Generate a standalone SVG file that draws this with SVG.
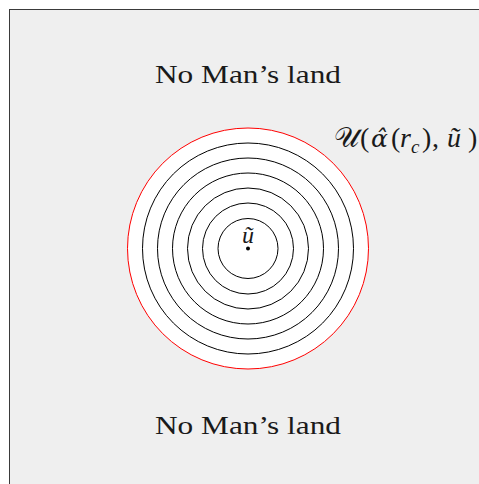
<svg xmlns="http://www.w3.org/2000/svg" width="479" height="484" viewBox="0 0 479 484">
<style>
.ring{fill:none;stroke:#000;stroke-width:1}
.lbl{font-family:"Liberation Serif","DejaVu Serif",serif;fill:#1a1a1a}
.it{font-style:italic}
.dv{font-family:"DejaVu Serif",serif}
</style>
<g id="background">
<rect x="9.5" y="9.5" width="520" height="520" fill="#efefef" stroke="#3a3a3a" stroke-width="1"/>
</g>
<g id="region">
<circle cx="248" cy="248.5" r="120.5" fill="#fff" stroke="#ff0000" stroke-width="1"/>
<circle class="ring" cx="248" cy="248.5" r="105.5"/>
<circle class="ring" cx="248" cy="248.5" r="90.5"/>
<circle class="ring" cx="248" cy="248.5" r="75.5"/>
<circle class="ring" cx="248" cy="248.5" r="60.5"/>
<circle class="ring" cx="248" cy="248.5" r="45.5"/>
<circle class="ring" cx="248" cy="248.5" r="30"/>
</g>
<g id="center">
<circle cx="248" cy="248.5" r="2" fill="#000"/>
<text class="lbl it" x="248" y="243" font-size="24" text-anchor="middle">ũ</text>
</g>
<g id="label-top">
<text class="lbl" x="155" y="83" font-size="26" textLength="186" lengthAdjust="spacingAndGlyphs">No Man’s land</text>
</g>
<g id="label-bottom">
<text class="lbl" x="155" y="433.5" font-size="26" textLength="186" lengthAdjust="spacingAndGlyphs">No Man’s land</text>
</g>
<g id="label-U">
<text class="lbl" y="147" font-size="28"><tspan x="334">𝒰</tspan><tspan x="360">(</tspan><tspan class="it dv" x="371" font-size="25">α̂</tspan><tspan x="391">(</tspan><tspan class="it" x="400">r</tspan><tspan class="it" x="411" y="153" font-size="19">c</tspan><tspan x="422" y="147">)</tspan><tspan x="432">,</tspan><tspan class="it" x="447">ũ</tspan><tspan x="468">)</tspan></text>
</g>
</svg>
